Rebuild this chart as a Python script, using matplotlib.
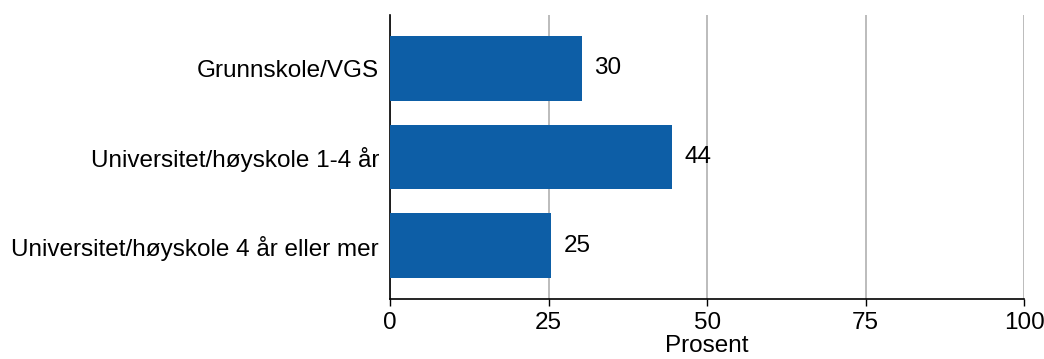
import matplotlib.pyplot as plt

plt.rcParams['font.family'] = ['Liberation Sans', 'DejaVu Sans']

categories = ['Grunnskole/VGS', 'Universitet/høyskole 1-4 år', 'Universitet/høyskole 4 år eller mer']
values = [30.2, 44.4, 25.4]
labels = ['30', '44', '25']
xticks = [0, 25, 50, 75, 100]

fs = 17.5

fig = plt.figure(figsize=(10.44, 3.59), dpi=100)
ax = fig.add_axes([0.3736, 0.167, 0.6074, 0.791])

pos = list(range(len(categories)))
bars = ax.barh(pos, values, height=0.73, color='#0d5ea6', zorder=3)
for b, lab in zip(bars, labels):
    ax.annotate(lab, xy=(b.get_width(), b.get_y() + b.get_height() / 2),
                xytext=(9, 0), textcoords='offset points', va='center', ha='left', fontsize=fs)

ax.set_ylim(2.6, -0.6)
ax.set_xlim(0, 100)
ax.set_yticks(pos)
ax.set_yticklabels(categories, fontsize=fs)
ax.set_xticks(xticks)
ax.set_xticklabels([str(t) for t in xticks], fontsize=fs)
ax.tick_params(axis='y', length=0, pad=8)
ax.tick_params(axis='x', length=5, width=1, pad=4)
ax.xaxis.grid(True, color='#b0b0b0', linewidth=1.2, zorder=0)
ax.set_axisbelow(True)
for s in ['top', 'right']:
    ax.spines[s].set_visible(False)
for s in ['left', 'bottom']:
    ax.spines[s].set_color('black')
    ax.spines[s].set_linewidth(1.2)
ax.set_xlabel('Prosent', fontsize=fs, labelpad=1)

fig.savefig('out.png', dpi=100)
